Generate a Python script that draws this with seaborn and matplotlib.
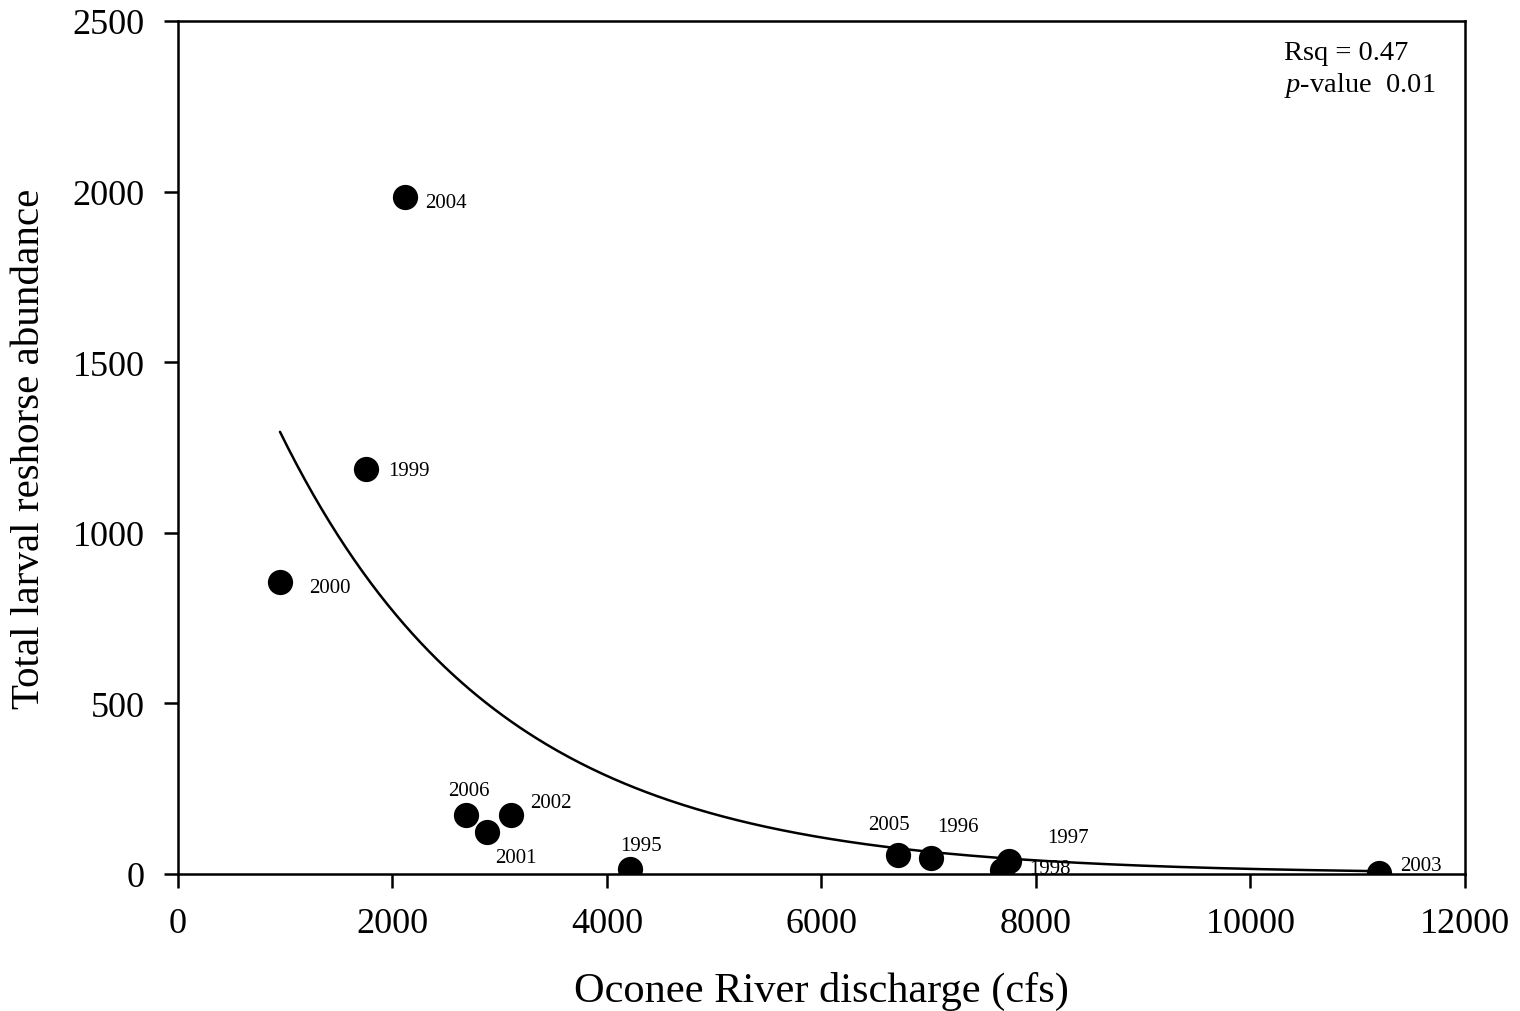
import numpy as np
import pandas as pd
import matplotlib
matplotlib.use("Agg")
import matplotlib.pyplot as plt
import seaborn as sns

# Observed data: mean river discharge vs. total larval redhorse catch
years = ["2004", "1999", "2000", "2006", "2001", "2002", "1995",
         "2005", "1996", "1997", "1998", "2003"]
discharge = [2117, 1753, 951, 2685, 2881, 3105, 4214,
             6713, 7021, 7748, 7683, 11198]
abundance = [1984, 1187, 856, 173, 123, 173, 15,
             56, 47, 38, 12, 3]

# Label offsets (pixels) and alignment for each year
label_dx = [20, 22, 29, 3, 8, 19, 11, -9, 27, 59, 48, 42]
label_dy = [-5, -2, -6, 24, -25, 12, 23, 30, 31, 24, 1, 7]
label_ha = ["left", "left", "left", "center", "left", "left", "center",
            "center", "center", "center", "center", "center"]

# Exponential decay fit y = a * exp(-k x)
fit_a = 2073.0
fit_k = 0.000494
fit_xmin, fit_xmax = 951, 11198

df = pd.DataFrame({"year": years, "discharge": discharge, "abundance": abundance})

sns.set_theme(style="white")
plt.rcParams["font.family"] = ["Liberation Serif", "DejaVu Serif"]
plt.rcParams["mathtext.fontset"] = "custom"
plt.rcParams["mathtext.it"] = "Liberation Serif:italic"
plt.rcParams["mathtext.rm"] = "Liberation Serif"
plt.rcParams["text.color"] = "black"
plt.rcParams["axes.labelcolor"] = "black"
plt.rcParams["xtick.color"] = "black"
plt.rcParams["ytick.color"] = "black"

fig = plt.figure(figsize=(15.2, 10.12), dpi=100)
ax = fig.add_axes([0.1171, 0.1354, 0.8467, 0.8429])

sns.scatterplot(data=df, x="discharge", y="abundance", ax=ax,
                color="black", s=330, edgecolor="black", linewidth=0, zorder=3)

xf = np.linspace(fit_xmin, fit_xmax, 400)
yf = fit_a * np.exp(-fit_k * xf)
sns.lineplot(x=xf, y=yf, ax=ax, color="black", linewidth=1.8, zorder=2)

for yr, xv, yv, dx, dy, ha in zip(years, discharge, abundance, label_dx, label_dy, label_ha):
    ax.annotate(yr, (xv, yv), xytext=(dx, dy), textcoords="offset pixels",
                ha=ha, va="center", fontsize=15, color="black")

ax.text(0.859, 0.963, "Rsq = 0.47", transform=ax.transAxes, fontsize=20.5,
        ha="left", va="center", color="black")
ax.text(0.859, 0.925, "$p$-value  0.01", transform=ax.transAxes, fontsize=20.5,
        ha="left", va="center", color="black")

ax.set_xlim(0, 12000)
ax.set_ylim(0, 2500)
ax.set_xticks(np.arange(0, 12001, 2000))
ax.set_yticks(np.arange(0, 2501, 500))
ax.tick_params(axis="both", which="major", direction="out", length=10, width=1.8,
               labelsize=26, colors="black", bottom=True, left=True, pad=14)
for sp in ax.spines.values():
    sp.set_visible(True)
    sp.set_color("black")
    sp.set_linewidth(1.8)

ax.set_xlabel("Oconee River discharge (cfs)", fontsize=30.5, labelpad=22, color="black")
ax.set_ylabel("Total larval reshorse abundance", fontsize=29.5, labelpad=18, color="black")
ax.grid(False)

fig.savefig("out.png", dpi=100, facecolor="white")
